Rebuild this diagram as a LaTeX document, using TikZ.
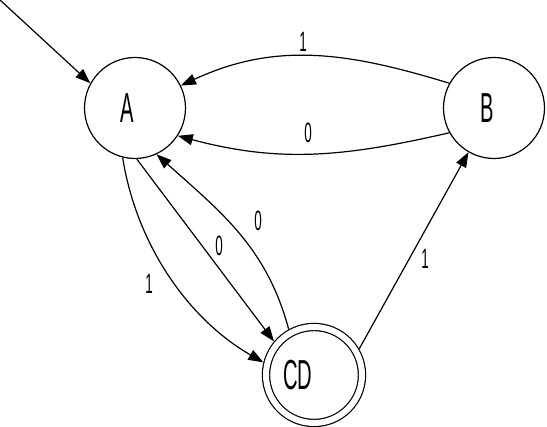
\documentclass[tikz,border=0pt]{standalone}
\usepackage{fontspec}
\setmainfont{Liberation Sans}[FakeStretch=0.48]
\usetikzlibrary{arrows.meta}

\begin{document}
\begin{tikzpicture}[
    x=1pt, y=1pt,
    state/.style={circle, draw, line width=1.2pt, minimum size=101pt, inner sep=0pt, font=\fontsize{42}{42}\selectfont},
    accepting/.style={state, double, double distance=6pt, minimum size=96pt, outer sep=4.2pt},
    edge/.style={-{Triangle[length=15pt,width=11pt]}, line width=1.2pt},
    sym/.style={inner sep=0pt, font=\fontsize{28}{28}\selectfont}
]
\useasboundingbox (0,0) rectangle (547,427);

% States
\node[state] (A) at (135,319) {\kern-16pt A};
\node[state] (B) at (494,319) {\kern-14pt B};
\node[accepting] (CD) at (314,52) {\kern-32pt CD};

% Start
\coordinate (start) at (0,427);
\draw[edge] (start) -- (A.151);

% Transitions
\draw[edge] (B.151) to[out=163, in=25] (A.26);
\draw[edge] (B.209) to[out=193, in=345] (A.-33);
\draw[edge] (A.-88) -- (CD.140);
\draw[edge] (CD.119) to[out=105, in=318] (A.-65);
\draw[edge] (A.256) to[out=279, in=150, looseness=0.9] (CD.166);
\draw[edge] (CD.30) -- (B.240);

% Labels
\node[sym] (lab1) at (303,385) {1};
\node[sym] (lab2) at (308,294) {0};
\node[sym] (lab3) at (219,181) {0};
\node[sym] (lab4) at (258,206) {0};
\node[sym] (lab5) at (149,143) {1};
\node[sym] (lab6) at (425,168) {1};

\end{tikzpicture}
\end{document}
